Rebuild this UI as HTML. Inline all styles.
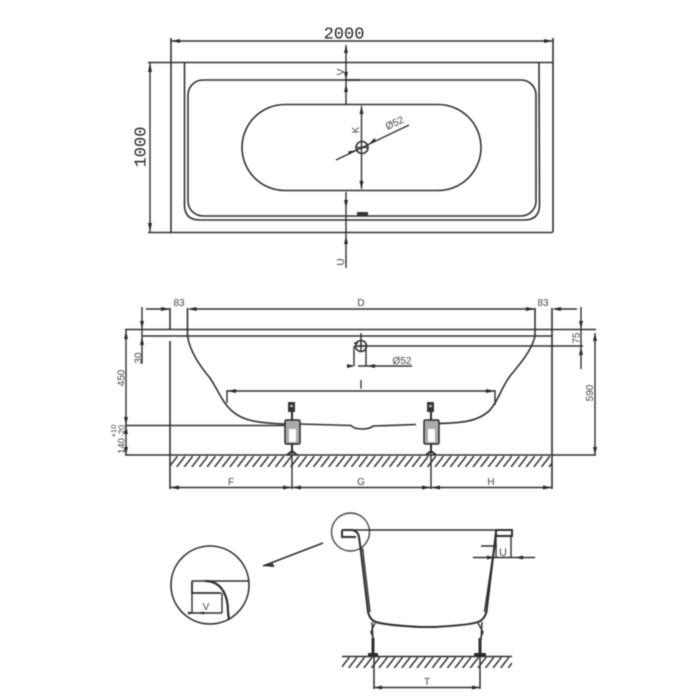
<!DOCTYPE html>
<html><head><meta charset="utf-8"><style>
html,body{margin:0;padding:0;background:#fff;width:700px;height:700px;overflow:hidden}
svg{display:block}
#all{filter:blur(0.5px)}
text{font-family:"Liberation Sans",sans-serif;fill:#444}
.m{font-family:"Liberation Mono",monospace;fill:#222}
</style></head><body>
<svg width="700" height="700" viewBox="0 0 700 700" xmlns="http://www.w3.org/2000/svg">
<defs>
<pattern id="h" width="7.6" height="11" patternUnits="userSpaceOnUse" patternTransform="translate(170 456)">
<path d="M-1 11 L7.6 0 M6.6 11 L15.2 0" stroke="#333" stroke-width="1.5" fill="none"/>
</pattern>
<pattern id="h2" width="7.6" height="11" patternUnits="userSpaceOnUse" patternTransform="translate(342 657)">
<path d="M-1 11 L7.6 0 M6.6 11 L15.2 0" stroke="#333" stroke-width="1.5" fill="none"/>
</pattern>
</defs>
<g id="all">
<g fill="none" stroke="#303030" stroke-width="1.4">
<!-- TOP VIEW -->
<path d="M171 38V232M553 38V232M148 62.500H553M148 232.500H553" stroke-width="1.600"/>
<path d="M171 41H553M150 63V232"/>
<path d="M184.500 63V205Q184.500 220 200 220H524Q539.500 220 539.500 205L539 63" stroke-width="1.600"/>
<rect x="188" y="80" width="348" height="136" rx="15" stroke-width="1.600"/>
<rect x="242" y="104.500" width="239" height="86" rx="43" stroke-width="1.600"/>
<path d="M346 45V104M346 192V268M361.500 106V189M336 160L409 125"/>
<path d="M346 80H360" stroke-width="1.800"/>
<circle cx="362" cy="147.500" r="6" stroke-width="1.600"/>
<path d="M356 147.500H368"/>
<!-- SIDE VIEW -->
<path d="M125 329.500H596M142 336H552M358 346H583M125 455H596M125 425.500H285" stroke-width="1.600"/>
<path d="M170 308V330M170 341V489M552 308V489M187.500 308V336M535 308V336" stroke-width="1.600"/>
<path d="M146 309H170M190 309H535M555 309H577"/>
<path d="M142 307V364M581 307V369M126 330V455M595 333V455"/>
<path d="M187.500 336C190 352 200 366 210 378C218 390 222 402 232 411C242 420 255 423 285 424M300 424L351 425.500Q354 429 362 429Q370 429 373 426L416 424.500M438 423.500C460 423 478 422 490 410C500 398 500 390 510 376C520 364 532 350 535 336" stroke-width="1.600"/>
<path d="M227 391H495M227 390V403M495 390V405"/>
<path d="M170 487.500H552M292 444V489M431 444V489"/>
<path d="M354 343H358M358 366H412M354 346V366M366 346V366M361 333V345"/>
<circle cx="361" cy="346" r="5.500" stroke-width="1.600"/>
<path d="M361 341V351M356 346H366"/>
<path d="M361 380V388"/>
</g>
<rect x="170" y="456" width="382" height="11" fill="url(#h)"/>
<!-- Feet -->
<g fill="#aaa" stroke="#2a2a2a" stroke-width="1.500">
<rect x="285" y="420" width="15" height="24" rx="1.500"/>
<rect x="424" y="420" width="15" height="24" rx="1.500"/>
</g>
<rect x="289" y="429" width="7" height="13" fill="#fff"/>
<rect x="428" y="429" width="7" height="13" fill="#fff"/>
<path d="M292 412V420M287 455L292 451L297 455M292 444V452M431 412V420M426 455L431 451L436 455M431 444V452" fill="none" stroke="#2a2a2a" stroke-width="2"/>
<rect x="288" y="402" width="7" height="10" fill="#333"/>
<rect x="427" y="402" width="7" height="10" fill="#333"/>
<rect x="290" y="405" width="3" height="2" fill="#bbb"/>
<rect x="429" y="405" width="3" height="2" fill="#bbb"/>
<rect x="357" y="212" width="11" height="3.500" fill="#333"/>
<!-- arrowheads -->
<g fill="#2a2a2a" stroke="none">
<path d="M171 41l9-2v4zM553 41l-9-2v4zM150 63l-2 9h4zM150 232l-2-9h4z"/>
<path d="M346 45l-2 8h4zM346 80l-2-8h4zM346 84l-2 8h4zM346 208l-2-8h4zM346 236l-2 8h4z"/>
<path d="M361.500 106l-2 8h4zM361.500 189l-2-8h4z"/>
<path d="M356 150l-8 1.500 1.500 3zM368 145l8-4-1.500-3z"/>
<path d="M170 309l-9-2v4zM187.500 309l9-2v4zM535 309l-9-2v4zM552 309l9-2v4z"/>
<path d="M142 329l-2-8h4zM142 337l-2 8h4zM581 329l-2-8h4zM581 347l-2 8h4z"/>
<path d="M126 331l-2 8h4zM126 425l-2-8h4zM126 426l-2 8h4zM126 455l-2-8h4zM595 333l-2 8h4zM595 455l-2-8h4z"/>
<path d="M227 391l9-2v4zM495 391l-9-2v4z"/>
<path d="M170 487.500l9-2v4zM292 487.500l-9-2v4zM292 487.500l9-2v4zM431 487.500l-9-2v4zM431 487.500l9-2v4zM552 487.500l-9-2v4z"/>
<path d="M355 366l-8-2v4zM367 366l8-2v4z"/>
<path d="M263 566l10-2.500 1.500 3.500z"/>
<path d="M374 687.500l8-2v4zM480 687.500l-8-2v4z"/>
<path d="M495 557.500l-8-2v4zM515 557.500l8-2v4z"/>
<path d="M195 613l-7-1.500v3zM197 613l7-1.500v3z"/>
</g>
<!-- BOTTOM -->
<g fill="none" stroke="#2e2e2e" stroke-width="1.400">
<circle cx="350.500" cy="532" r="19" stroke="#444"/>
<path d="M342 530H512"/>
<path d="M342 530V537H356M342 530H352Q358 531 359 537L360.500 548" stroke-width="2"/>
<path d="M496 530H512V536H496V530" stroke-width="2"/>
<path d="M360.500 548L368 612Q370 620 376 622Q385 625 420 627H435Q470 625 478 622Q484 620 486.500 612L496 532" stroke-width="2"/>
<path d="M362.500 548L370 612M494 548L484.500 612"/>
<path d="M372 622L373 640M375 623L371 632L374 640M482 622L481 640M478 623L483 632L480 640"/>
<path d="M373 638V656M480 638V656" stroke-width="3"/>
<path d="M342 656.500H512M374 656V689M480 656V689M374 687.500H480" stroke-width="1.500"/>
<path d="M481 546H497M473 557.500H535M511 536V558M496 536V558"/>
<path d="M323 543L263 566" stroke-width="1.600"/>
<circle cx="210" cy="585" r="39" stroke-width="1.600"/>
<path d="M192 581H249" stroke-width="1.600"/>
<path d="M192 581V593H221" stroke-width="1.800"/>
<path d="M205 581C220 581 228 593 228 612L229 620" stroke-width="2.200"/>
<path d="M192 593V613M222 593V613M192 613H222"/>
</g>
<path d="M368 653h10v3h-10zM474 653h12v3h-12z" fill="#2a2a2a"/>
<rect x="342" y="657" width="170" height="11" fill="url(#h2)"/>
<!-- TEXT -->
<text class="m" x="344" y="38.500" font-size="17" text-anchor="middle">2000</text>
<text class="m" transform="translate(145.500 147) rotate(-90)" font-size="17" text-anchor="middle">1000</text>
<text transform="translate(344 72) rotate(-90)" font-size="10" text-anchor="middle">V</text>
<text transform="translate(344 262) rotate(-90)" font-size="10" text-anchor="middle">U</text>
<text transform="translate(359 130) rotate(-90)" font-size="10" text-anchor="middle">K</text>
<text transform="translate(396 126) rotate(-25)" font-size="10" text-anchor="middle">Ø52</text>
<text x="179" y="306" font-size="10" text-anchor="middle">83</text>
<text x="543" y="306" font-size="10" text-anchor="middle">83</text>
<text x="361" y="306" font-size="10" text-anchor="middle">D</text>
<text x="402" y="364" font-size="10" text-anchor="middle">Ø52</text>
<text x="361" y="389" font-size="10" text-anchor="middle">I</text>
<text transform="translate(141.500 358) rotate(-90)" font-size="10" text-anchor="middle">30</text>
<text transform="translate(579.500 338) rotate(-90)" font-size="10" text-anchor="middle">75</text>
<text transform="translate(124.500 378) rotate(-90)" font-size="10" text-anchor="middle">450</text>
<text transform="translate(593 393) rotate(-90)" font-size="10" text-anchor="middle">590</text>
<text transform="translate(124.500 446) rotate(-90)" font-size="9.500" text-anchor="middle">140</text>
<text transform="translate(124.500 431) rotate(-90)" font-size="8.500" text-anchor="middle">-20</text>
<text transform="translate(116 431) rotate(-90)" font-size="7.500" text-anchor="middle">+10</text>
<text x="231" y="485" font-size="10" text-anchor="middle">F</text>
<text x="361" y="485" font-size="10" text-anchor="middle">G</text>
<text x="491" y="485" font-size="10" text-anchor="middle">H</text>
<text x="206" y="610" font-size="10" text-anchor="middle">V</text>
<text x="503" y="556" font-size="11" text-anchor="middle">U</text>
<text x="427" y="685" font-size="10" text-anchor="middle">T</text>
</g>
</svg>
</body></html>
